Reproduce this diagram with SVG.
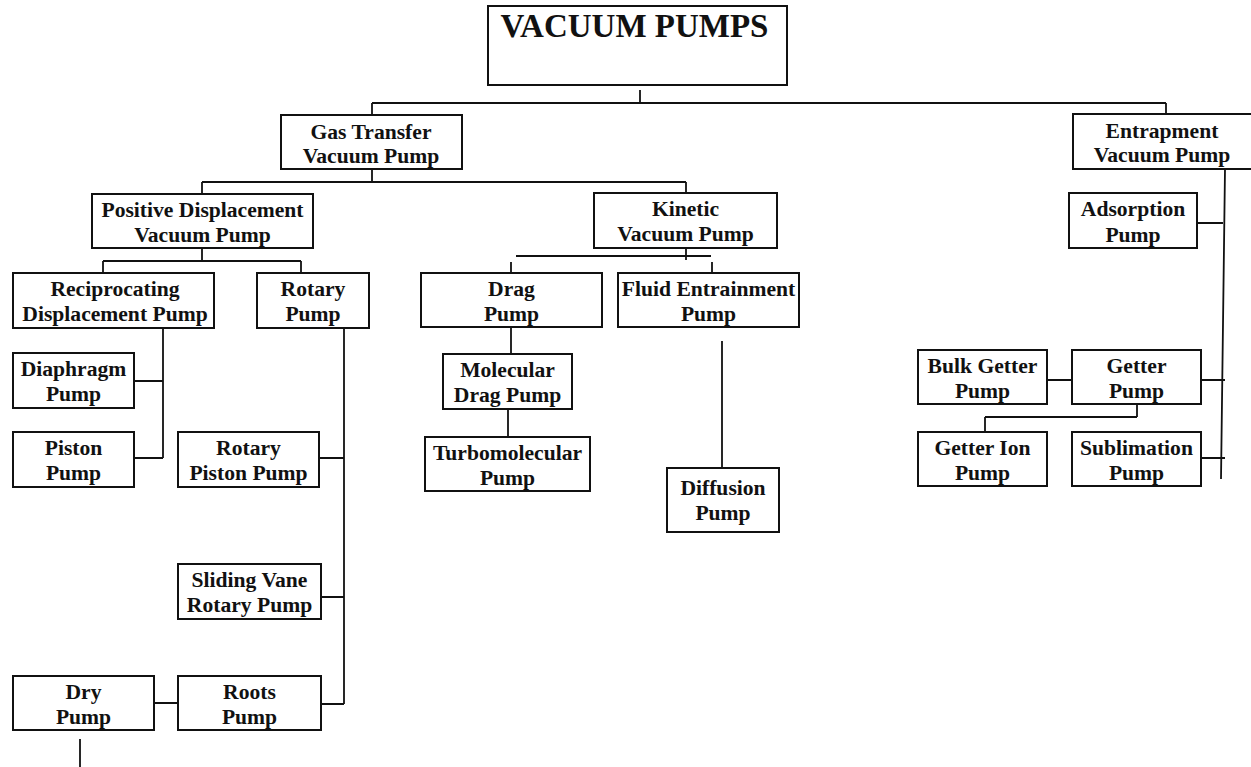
<svg xmlns="http://www.w3.org/2000/svg" width="1251" height="767" viewBox="0 0 1251 767">
<style>
.box{fill:#fff;stroke:#111;stroke-width:2}
.t{font-family:'Liberation Serif','DejaVu Serif',serif;font-weight:700;font-size:21.6px;fill:#111;text-anchor:middle}
.title{font-size:33px}
.c{stroke:#111;stroke-width:1.8;fill:none}
</style>
<rect width="1251" height="767" fill="#fff"/>
<g id="connectors">
<path class="c" d="M640 90V103M372 103H1166M372 103V115M1166 103V114"/>
<path class="c" d="M372 169V182M202 182H686M202 182V194M686 182V193"/>
<path class="c" d="M202 248V261M103 261H301M103 261V273M301 261V273"/>
<path class="c" d="M163 328V458M134 381H163M134 458H163"/>
<path class="c" d="M344 328V704M319 458H344M321 597H344M321 704H344M154 703H178M80 739V767"/>
<path class="c" d="M686 248V260M516 256H711M511 262V273M712 262V273"/>
<path class="c" d="M511 327V354M508 409V437M722 341V468"/>
<path class="c" d="M1225 169L1221 479M1197 223H1223M1201 380H1225M1201 458H1225M1047 380H1072M1137 404V417M985 417H1137M985 417V432"/>
</g>
<g id="vacuum-pumps"><rect class="box" x="488" y="6" width="299" height="79"/><text class="t title" x="634.5" y="37">VACUUM PUMPS</text></g>
<g id="gas-transfer"><rect class="box" x="281" y="115" width="181" height="54"/><text class="t" x="371" y="139">Gas Transfer</text><text class="t" x="371" y="163">Vacuum Pump</text></g>
<g id="entrapment"><rect class="box" x="1073" y="114" width="180" height="55"/><text class="t" x="1162" y="138">Entrapment</text><text class="t" x="1162" y="162">Vacuum Pump</text></g>
<g id="positive-displacement"><rect class="box" x="92" y="194" width="221" height="54"/><text class="t" x="202.5" y="217">Positive Displacement</text><text class="t" x="202.5" y="242">Vacuum Pump</text></g>
<g id="kinetic"><rect class="box" x="594" y="193" width="183" height="55"/><text class="t" x="685.5" y="216">Kinetic</text><text class="t" x="685.5" y="241">Vacuum Pump</text></g>
<g id="adsorption"><rect class="box" x="1069" y="193" width="128" height="55"/><text class="t" x="1133" y="216">Adsorption</text><text class="t" x="1133" y="242">Pump</text></g>
<g id="reciprocating"><rect class="box" x="13" y="273" width="201" height="55"/><text class="t" x="115" y="296">Reciprocating</text><text class="t" x="115" y="321">Displacement Pump</text></g>
<g id="rotary"><rect class="box" x="257" y="273" width="112" height="55"/><text class="t" x="313" y="296">Rotary</text><text class="t" x="313" y="321">Pump</text></g>
<g id="drag"><rect class="box" x="421" y="273" width="181" height="54"/><text class="t" x="511.5" y="296">Drag</text><text class="t" x="511.5" y="321">Pump</text></g>
<g id="fluid-entrainment"><rect class="box" x="618" y="273" width="181" height="54"/><text class="t" x="708.5" y="296">Fluid Entrainment</text><text class="t" x="708.5" y="321">Pump</text></g>
<g id="diaphragm"><rect class="box" x="13" y="353" width="121" height="55"/><text class="t" x="73.5" y="376">Diaphragm</text><text class="t" x="73.5" y="401">Pump</text></g>
<g id="molecular-drag"><rect class="box" x="443" y="354" width="129" height="55"/><text class="t" x="507.5" y="377">Molecular</text><text class="t" x="507.5" y="402">Drag Pump</text></g>
<g id="bulk-getter"><rect class="box" x="918" y="350" width="129" height="54"/><text class="t" x="982.5" y="373">Bulk Getter</text><text class="t" x="982.5" y="398">Pump</text></g>
<g id="getter"><rect class="box" x="1072" y="350" width="129" height="54"/><text class="t" x="1136.5" y="373">Getter</text><text class="t" x="1136.5" y="398">Pump</text></g>
<g id="piston"><rect class="box" x="13" y="432" width="121" height="55"/><text class="t" x="73.5" y="455">Piston</text><text class="t" x="73.5" y="480">Pump</text></g>
<g id="rotary-piston"><rect class="box" x="178" y="432" width="141" height="55"/><text class="t" x="248.5" y="455">Rotary</text><text class="t" x="248.5" y="480">Piston Pump</text></g>
<g id="turbomolecular"><rect class="box" x="425" y="437" width="165" height="54"/><text class="t" x="507.5" y="460">Turbomolecular</text><text class="t" x="507.5" y="485">Pump</text></g>
<g id="getter-ion"><rect class="box" x="918" y="432" width="129" height="54"/><text class="t" x="982.5" y="455">Getter Ion</text><text class="t" x="982.5" y="480">Pump</text></g>
<g id="sublimation"><rect class="box" x="1072" y="432" width="129" height="54"/><text class="t" x="1136.5" y="455">Sublimation</text><text class="t" x="1136.5" y="480">Pump</text></g>
<g id="diffusion"><rect class="box" x="667" y="468" width="112" height="64"/><text class="t" x="723" y="495">Diffusion</text><text class="t" x="723" y="520">Pump</text></g>
<g id="sliding-vane"><rect class="box" x="178" y="564" width="143" height="55"/><text class="t" x="249.5" y="587">Sliding Vane</text><text class="t" x="249.5" y="612">Rotary Pump</text></g>
<g id="dry"><rect class="box" x="13" y="676" width="141" height="54"/><text class="t" x="83.5" y="699">Dry</text><text class="t" x="83.5" y="724">Pump</text></g>
<g id="roots"><rect class="box" x="178" y="676" width="143" height="54"/><text class="t" x="249.5" y="699">Roots</text><text class="t" x="249.5" y="724">Pump</text></g>
</svg>
